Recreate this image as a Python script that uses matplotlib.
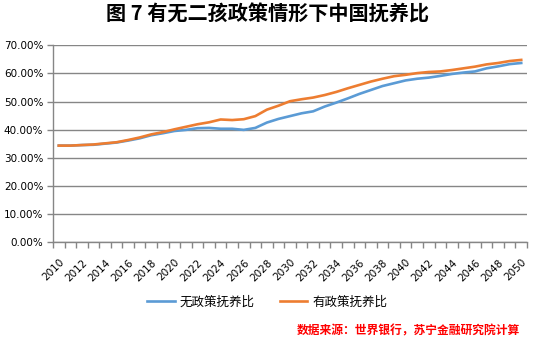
import matplotlib.pyplot as plt
from matplotlib.ticker import FuncFormatter

plt.rcParams['font.family'] = ['DejaVu Sans']

CJK = ['Noto Sans CJK SC', 'DejaVu Sans']

years = list(range(2010, 2051))

# dependency ratio without the two-child policy, %
no_policy = [34.3, 34.3, 34.5, 34.6, 35.0, 35.4, 36.1, 36.9, 38.0, 38.7,
             39.5, 39.9, 40.5, 40.6, 40.3, 40.3, 39.9, 40.6, 42.5, 43.8,
             44.8, 45.8, 46.5, 48.2, 49.6, 51.1, 52.7, 54.1, 55.5, 56.5,
             57.5, 58.1, 58.5, 59.1, 59.8, 60.3, 60.7, 61.8, 62.5, 63.3,
             63.7]

# dependency ratio with the two-child policy, %
with_policy = [34.3, 34.3, 34.5, 34.7, 35.1, 35.5, 36.3, 37.2, 38.3, 39.1,
               40.1, 41.0, 41.9, 42.6, 43.6, 43.4, 43.7, 44.8, 47.1, 48.5,
               50.1, 50.8, 51.4, 52.3, 53.4, 54.7, 55.9, 57.1, 58.1, 59.0,
               59.5, 60.1, 60.5, 60.7, 61.2, 61.8, 62.4, 63.2, 63.7, 64.4,
               64.8]

labels = ['无政策抚养比', '有政策抚养比']
colors = ['#5B9BD5', '#ED7D31']
title = '图 7 有无二孩政策情形下中国抚养比'
source = '数据来源：世界银行，苏宁金融研究院计算'

W, H = 534, 339
fig = plt.figure(figsize=(W / 100, H / 100), dpi=100)
ax = fig.add_axes([53 / W, 1 - 242 / H, 474 / W, (242 - 45.3) / H])

x = list(range(len(years)))
ax.plot(x, no_policy, color=colors[0], lw=1.9, label=labels[0])
ax.plot(x, with_policy, color=colors[1], lw=1.9, label=labels[1])

ax.set_ylim(0, 70)
ax.set_yticks(range(0, 71, 10))
ax.yaxis.set_major_formatter(FuncFormatter(lambda v, _: f'{v:.2f}%'))
ax.yaxis.grid(True, color='#868686', lw=1.0)
ax.set_axisbelow(True)

ax.set_xlim(-0.5, len(years) - 0.5)
ax.set_xticks(x[::2])
ax.set_xticklabels([str(y) for y in years[::2]], rotation=45,
                   ha='right', va='top', rotation_mode='anchor')
ax.set_xticks([i - 0.5 for i in range(len(years) + 1)], minor=True)
ax.tick_params(axis='x', which='major', length=0, pad=11, labelsize=7.5,
               colors='black')
ax.tick_params(axis='x', which='minor', length=4, color='#868686', width=1)
ax.tick_params(axis='y', length=4, color='#868686', width=1, labelsize=7.5,
               pad=3)

for side in ('top', 'right'):
    ax.spines[side].set_visible(False)
for side in ('left', 'bottom'):
    ax.spines[side].set_color('#868686')
    ax.spines[side].set_linewidth(1.0)

fig.text(0.5, 1 - 14 / H, title, ha='center', va='center', fontsize=14.5,
         fontweight='bold', family=CJK)

leg = fig.legend(loc='center', bbox_to_anchor=(0.5, 1 - 302 / H), ncol=2,
                 frameon=False, prop={'family': CJK, 'size': 9},
                 handlelength=2.2, columnspacing=2.0, handletextpad=0.4)

fig.text(520 / W, 1 - 331 / H, source, ha='right', va='center', fontsize=8.5,
         color='#FF0000', style='italic', fontweight='bold', family=CJK)

fig.savefig('out.png', dpi=100)
